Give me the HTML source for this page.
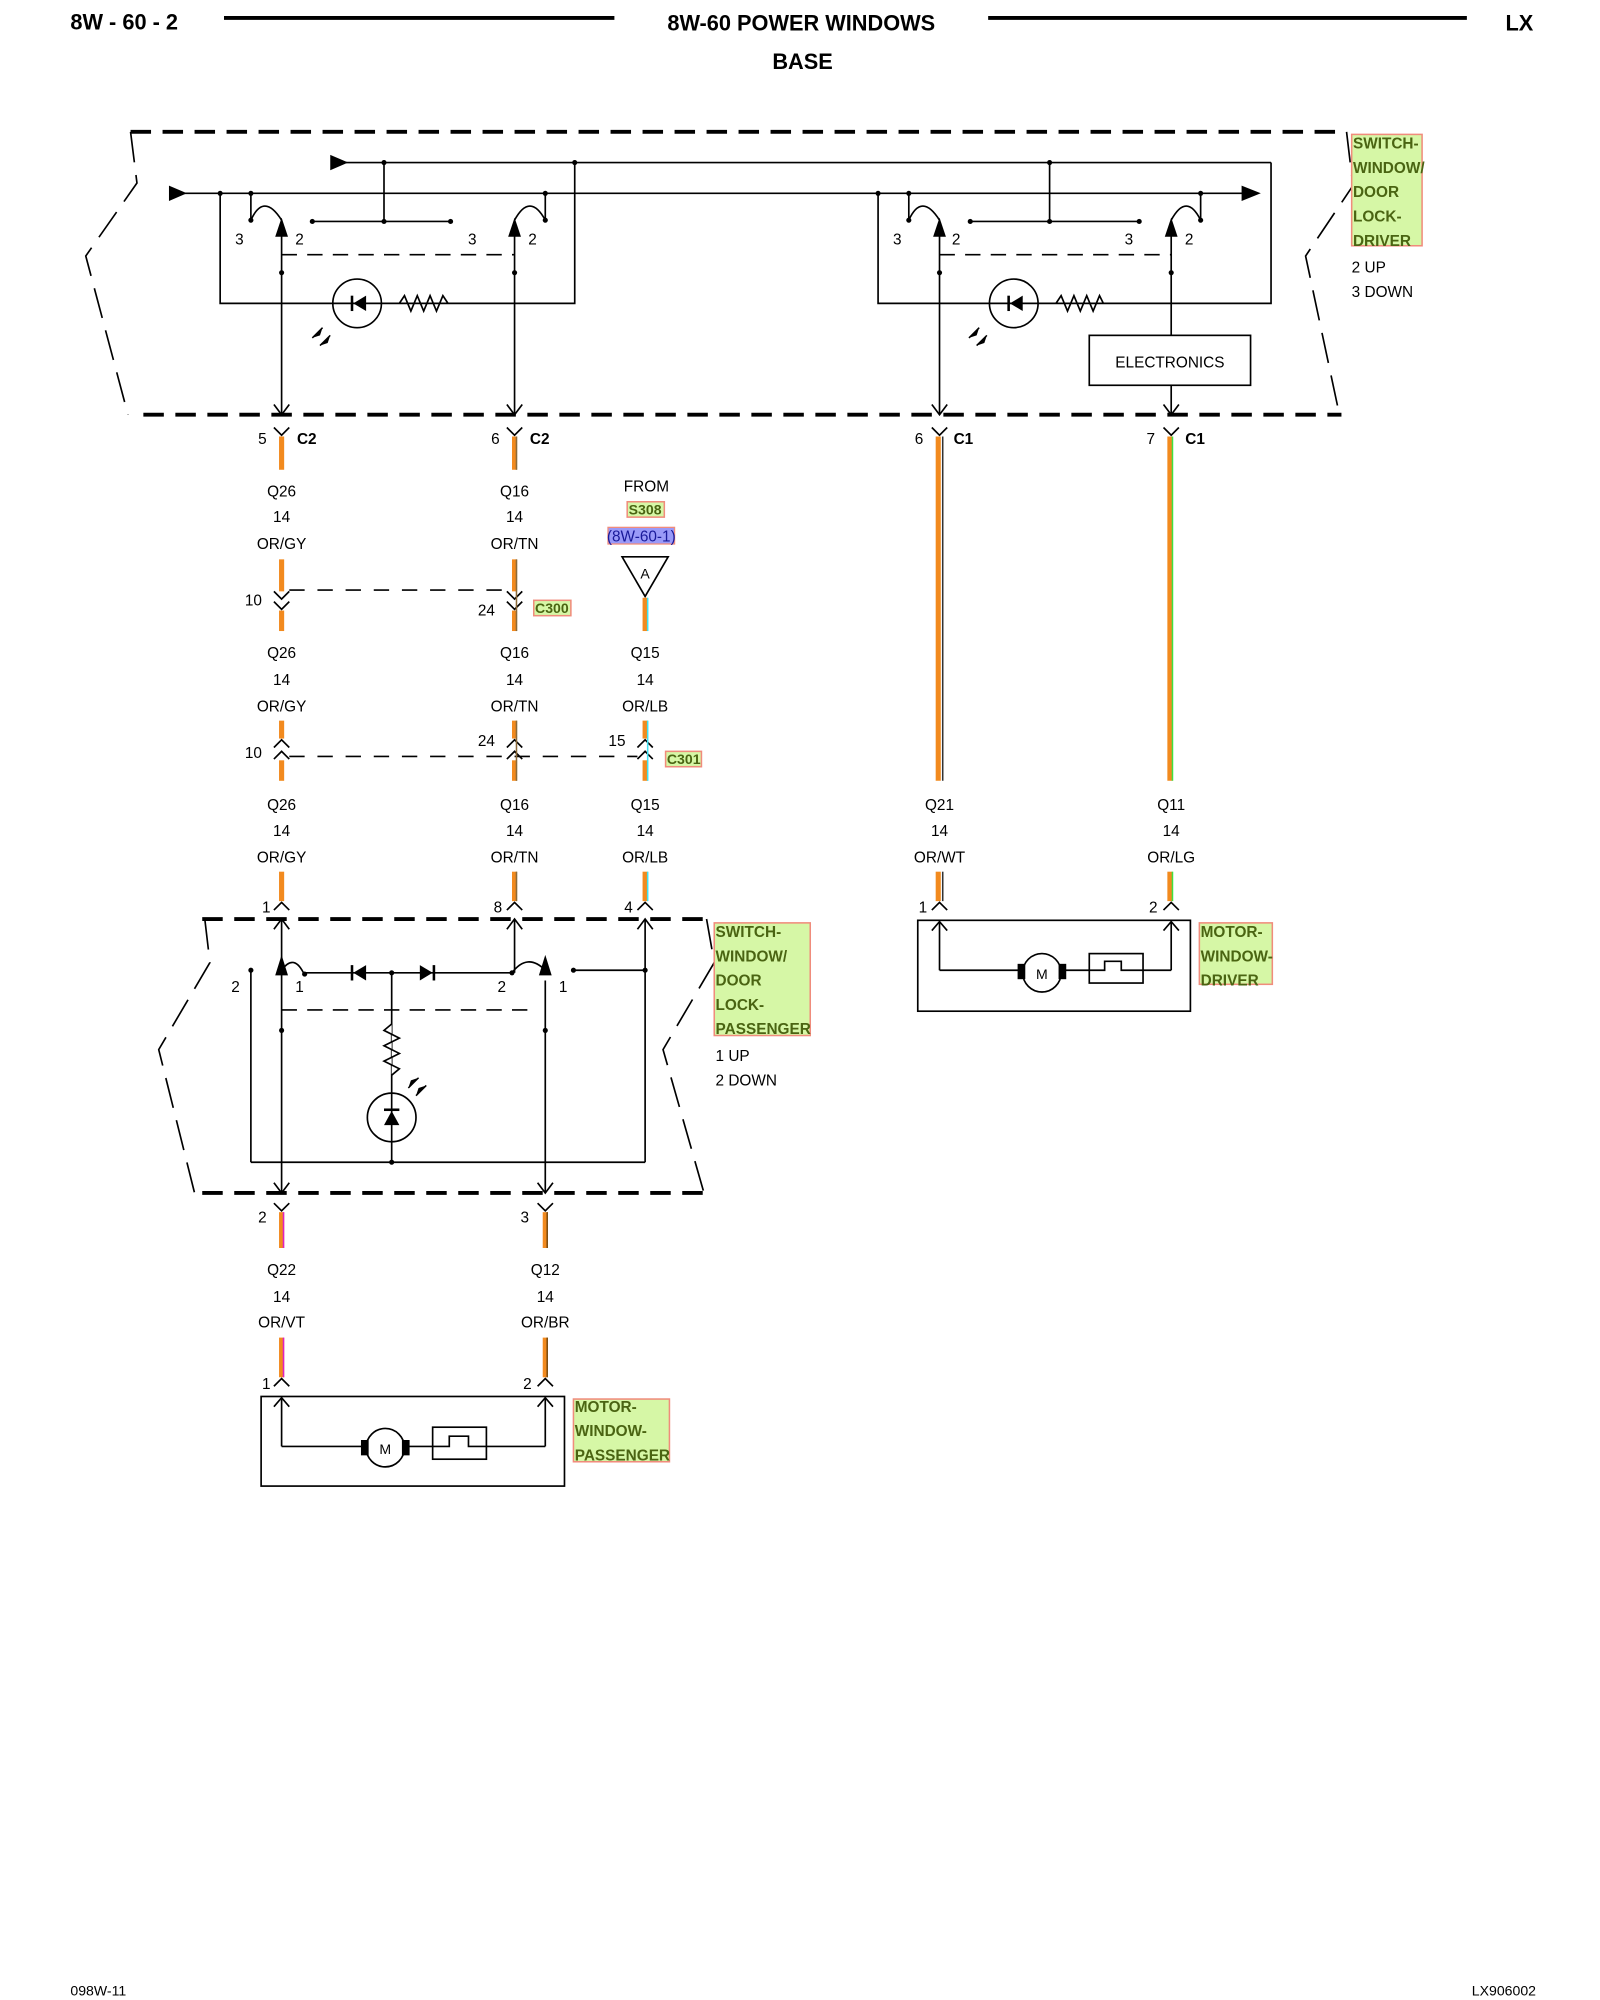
<!DOCTYPE html>
<html><head><meta charset="utf-8"><style>
html,body{margin:0;padding:0;background:#fff}
svg{display:block}
text{font-family:"Liberation Sans",Arial,sans-serif;fill:#000}
.t{font-size:12px;text-anchor:middle}
.l{font-size:12px}
.b{font-weight:bold}
.g{font-size:12px;font-weight:bold;fill:#4a6412}
.lb{fill:#d6f7a6;stroke:#f08c7c;stroke-width:1.2}
</style></head><body>
<svg width="1600" height="2000" viewBox="0 0 1250 1562.5" xmlns="http://www.w3.org/2000/svg">
<g fill="none" stroke="#000" stroke-width="1.3">
<line x1="175" y1="14" x2="480" y2="14" stroke-width="3"/>
<line x1="772" y1="14" x2="1146" y2="14" stroke-width="3"/>

<line x1="102" y1="103" x2="1048" y2="103" stroke-width="3" stroke-dasharray="16,9"/>
<line x1="112" y1="324" x2="1048" y2="324" stroke-width="3" stroke-dasharray="16,9"/>
<polyline points="102,103 107,143 67,200 100,324" stroke-dasharray="24,10"/>
<polyline points="1052,103 1057,145 1020,200 1046,322" stroke-dasharray="24,10"/>

<line x1="270" y1="127" x2="993" y2="127"/>
<polyline points="993,127 993,237 686,237 686,151"/>
<polyline points="449,127 449,237 172,237 172,151"/>
<line x1="140" y1="151" x2="975" y2="151"/>
<line x1="300" y1="127" x2="300" y2="173"/>
<line x1="820" y1="127" x2="820" y2="173"/>
<line x1="244" y1="173" x2="352" y2="173"/>
<line x1="758" y1="173" x2="890" y2="173"/>
<line x1="196" y1="151" x2="196" y2="172"/>
<path d="M196,172 Q206,150 220,172"/>
<line x1="220" y1="180" x2="220" y2="324"/>
<line x1="426" y1="151" x2="426" y2="172"/>
<path d="M402,172 Q414,150 426,172"/>
<line x1="402" y1="180" x2="402" y2="324"/>
<line x1="220" y1="199" x2="402" y2="199" stroke-dasharray="12,8"/>
<line x1="710" y1="151" x2="710" y2="172"/>
<path d="M710,172 Q720,150 734,172"/>
<line x1="734" y1="180" x2="734" y2="324"/>
<line x1="938" y1="151" x2="938" y2="172"/>
<path d="M915,172 Q927,150 938,172"/>
<line x1="915" y1="180" x2="915" y2="262"/>
<line x1="915" y1="301" x2="915" y2="324"/>
<line x1="734" y1="199" x2="915" y2="199" stroke-dasharray="12,8"/>
<rect x="851" y="262" width="126" height="39"/>
<circle cx="279" cy="237" r="19"/>
<polyline points="312,237 316,231 321,243 326,231 331,243 336,231 341,243 346,231 350,237"/>
<circle cx="792" cy="237" r="19"/>
<polyline points="825,237 829,231 834,243 839,231 844,243 849,231 854,243 859,231 862,237"/>
<polyline points="214,316 220,324 226,316"/>
<polyline points="396,316 402,324 408,316"/>
<polyline points="728,316 734,324 740,316"/>
<polyline points="909,316 915,324 921,316"/>

<polyline points="214,334 220,340 226,334"/>
<polyline points="396,334 402,340 408,334"/>
<polyline points="728,334 734,340 740,334"/>
<polyline points="909,334 915,340 921,334"/>

<polyline points="214,462 220,468 226,462"/><polyline points="214,470 220,476 226,470"/>
<polyline points="396,462 402,468 408,462"/><polyline points="396,470 402,476 408,470"/>
<line x1="226" y1="461" x2="396" y2="461" stroke-dasharray="12,10"/>
<polyline points="214,584 220,578 226,584"/><polyline points="214,593 220,587 226,593"/>
<polyline points="396,584 402,578 408,584"/><polyline points="396,593 402,587 408,593"/>
<polyline points="498,584 504,578 510,584"/><polyline points="498,593 504,587 510,593"/>
<line x1="226" y1="591" x2="498" y2="591" stroke-dasharray="12,10"/>
<polygon points="486,435 522,435 504,466"/>

<polyline points="214,711 220,705 226,711"/>
<polyline points="396,711 402,705 408,711"/>
<polyline points="498,711 504,705 510,711"/>
<polyline points="728,711 734,705 740,711"/>
<polyline points="909,711 915,705 921,711"/>

<line x1="158" y1="718" x2="552" y2="718" stroke-width="3" stroke-dasharray="16,9"/>
<line x1="158" y1="932" x2="552" y2="932" stroke-width="3" stroke-dasharray="16,9"/>
<polyline points="160,718 164,752 124,820 152,932" stroke-dasharray="24,10"/>
<polyline points="552,718 558,752 518,820 550,932" stroke-dasharray="24,10"/>
<line x1="220" y1="718" x2="220" y2="932"/>
<polyline points="214,726 220,718 226,726"/>
<polyline points="214,924 220,932 226,924"/>
<path d="M220,758 Q230,744 238,762"/>
<line x1="238" y1="760" x2="400" y2="760"/>
<path d="M400,760 Q412,744 426,758"/>
<line x1="402" y1="718" x2="402" y2="760"/>
<polyline points="396,726 402,718 408,726"/>
<line x1="426" y1="766" x2="426" y2="932"/>
<polyline points="420,924 426,932 432,924"/>
<line x1="196" y1="758" x2="196" y2="908"/>
<line x1="448" y1="758" x2="504" y2="758"/>
<line x1="504" y1="718" x2="504" y2="908"/>
<polyline points="498,726 504,718 510,726"/>
<line x1="196" y1="908" x2="504" y2="908"/>
<line x1="220" y1="789" x2="418" y2="789" stroke-dasharray="12,8"/>
<line x1="306" y1="760" x2="306" y2="908"/>
<polyline points="306,800 300,805 312,811 300,817 312,823 300,829 312,835 306,840" fill="#fff"/>
<circle cx="306" cy="873" r="19" fill="#fff"/>
<line x1="306" y1="854" x2="306" y2="892"/>

<polyline points="214,940 220,946 226,940"/>
<polyline points="420,940 426,946 432,940"/>
<polyline points="214,1083 220,1077 226,1083"/>
<polyline points="420,1083 426,1077 432,1083"/>
<rect x="204" y="1091" width="237" height="70"/>
<polyline points="220,1130 220,1092"/><polyline points="214,1099 220,1092 226,1099"/>
<line x1="220" y1="1130" x2="286" y2="1130"/>
<circle cx="301" cy="1131" r="15"/>
<line x1="316" y1="1130" x2="338" y2="1130"/>
<rect x="338" y="1115" width="42" height="25"/>
<polyline points="338,1130 351,1130 351,1122 366,1122 366,1130 380,1130"/>
<line x1="380" y1="1130" x2="426" y2="1130"/>
<line x1="426" y1="1130" x2="426" y2="1092"/><polyline points="420,1099 426,1092 432,1099"/>
<rect x="717" y="719" width="213" height="71"/>
<line x1="734" y1="758" x2="734" y2="720"/><polyline points="728,727 734,720 740,727"/>
<line x1="734" y1="758" x2="799" y2="758"/>
<circle cx="814" cy="760" r="15"/>
<line x1="829" y1="758" x2="851" y2="758"/>
<rect x="851" y="745" width="42" height="23"/>
<polyline points="851,758 863,758 863,751 876,751 876,758 893,758"/>
<line x1="893" y1="758" x2="915" y2="758"/>
<line x1="915" y1="758" x2="915" y2="720"/><polyline points="909,727 915,720 921,727"/>
</g>

<g fill="#000" stroke="none">
<polygon points="258,121 258,133 272,127"/>
<polygon points="132,145 132,157 146,151"/>
<polygon points="985,151 970,145 970,157"/>
<polygon points="220,170 215,185 225,185"/><polygon points="402,170 397,185 407,185"/>
<polygon points="734,170 729,185 739,185"/><polygon points="915,170 910,185 920,185"/>
<polygon points="220,746 215,762 225,762"/><polygon points="426,746 421,762 431,762"/>
<polygon points="276,237 286,231 286,243"/><rect x="274" y="231" width="2" height="12"/>
<polygon points="789,237 799,231 799,243"/><rect x="787" y="231" width="2" height="12"/>
<polygon points="276,760 286,754 286,766"/><rect x="274" y="754" width="2" height="12"/>
<polygon points="338,760 328,754 328,766"/><rect x="338" y="754" width="2" height="12"/>
<polygon points="306,868 300,879 312,879"/><rect x="300" y="866" width="12" height="2"/>
<circle cx="172" cy="151" r="2"/><circle cx="196" cy="151" r="2"/><circle cx="300" cy="127" r="2"/>
<circle cx="449" cy="127" r="2"/><circle cx="426" cy="151" r="2"/><circle cx="686" cy="151" r="2"/>
<circle cx="710" cy="151" r="2"/><circle cx="820" cy="127" r="2"/><circle cx="938" cy="151" r="2"/>
<circle cx="300" cy="173" r="2"/><circle cx="820" cy="173" r="2"/>
<circle cx="244" cy="173" r="2"/><circle cx="352" cy="173" r="2"/><circle cx="758" cy="173" r="2"/><circle cx="890" cy="173" r="2"/>
<circle cx="196" cy="172" r="2"/><circle cx="426" cy="172" r="2"/><circle cx="710" cy="172" r="2"/><circle cx="938" cy="172" r="2"/>
<circle cx="220" cy="213" r="2"/><circle cx="402" cy="213" r="2"/><circle cx="734" cy="213" r="2"/><circle cx="915" cy="213" r="2"/>
<circle cx="196" cy="758" r="2"/><circle cx="306" cy="760" r="2"/><circle cx="448" cy="758" r="2"/><circle cx="504" cy="758" r="2"/>
<circle cx="238" cy="761" r="2"/><circle cx="400" cy="760" r="2"/>
<circle cx="220" cy="805" r="2"/><circle cx="426" cy="805" r="2"/><circle cx="306" cy="908" r="2"/>
<polygon points="244,264 252,256 250,262"/><polygon points="250,270 258,262 256,268"/>
<polygon points="757,264 765,256 763,262"/><polygon points="763,270 771,262 769,268"/>
<polygon points="327,842 319,850 321,844"/><polygon points="333,848 325,856 327,850"/>
<rect x="282" y="1125" width="6" height="12"/><rect x="314" y="1125" width="6" height="12"/>
<rect x="795" y="753" width="6" height="12"/><rect x="827" y="753" width="6" height="12"/>
</g>
<g stroke="#000" stroke-width="1.2">
<line x1="252" y1="256" x2="244" y2="264"/><line x1="258" y1="262" x2="250" y2="270"/>
<line x1="765" y1="256" x2="757" y2="264"/><line x1="771" y1="262" x2="763" y2="270"/>
<line x1="319" y1="850" x2="327" y2="842"/><line x1="325" y1="856" x2="333" y2="848"/>
</g>

<g stroke-width="4" fill="none">
<line x1="220" y1="341" x2="220" y2="367" stroke="#f28a1e"/>
<line x1="402" y1="341" x2="402" y2="367" stroke="#f28a1e"/>
<line x1="220" y1="437" x2="220" y2="462" stroke="#f28a1e"/>
<line x1="402" y1="437" x2="402" y2="462" stroke="#f28a1e"/>
<line x1="220" y1="477" x2="220" y2="493" stroke="#f28a1e"/>
<line x1="402" y1="477" x2="402" y2="493" stroke="#f28a1e"/>
<line x1="504" y1="467" x2="504" y2="493" stroke="#f28a1e"/>
<line x1="220" y1="563" x2="220" y2="577" stroke="#f28a1e"/><line x1="220" y1="594" x2="220" y2="610" stroke="#f28a1e"/>
<line x1="402" y1="563" x2="402" y2="577" stroke="#f28a1e"/><line x1="402" y1="594" x2="402" y2="610" stroke="#f28a1e"/>
<line x1="504" y1="563" x2="504" y2="577" stroke="#f28a1e"/><line x1="504" y1="594" x2="504" y2="610" stroke="#f28a1e"/>
<line x1="220" y1="681" x2="220" y2="704" stroke="#f28a1e"/>
<line x1="402" y1="681" x2="402" y2="704" stroke="#f28a1e"/>
<line x1="504" y1="681" x2="504" y2="704" stroke="#f28a1e"/>
<line x1="733" y1="341" x2="733" y2="610" stroke="#f28a1e"/>
<line x1="733" y1="681" x2="733" y2="704" stroke="#f28a1e"/>
<line x1="914" y1="341" x2="914" y2="610" stroke="#f28a1e"/>
<line x1="914" y1="681" x2="914" y2="704" stroke="#f28a1e"/>
<line x1="220" y1="947" x2="220" y2="975" stroke="#f28a1e"/>
<line x1="426" y1="947" x2="426" y2="975" stroke="#f28a1e"/>
<line x1="220" y1="1045" x2="220" y2="1076" stroke="#f28a1e"/>
<line x1="426" y1="1045" x2="426" y2="1076" stroke="#f28a1e"/>
</g>
<g stroke-width="1.2">
<line x1="403.5" y1="341" x2="403.5" y2="367" stroke="#8a6a3a"/>
<line x1="403.5" y1="437" x2="403.5" y2="493" stroke="#8a6a3a"/>
<line x1="403.5" y1="563" x2="403.5" y2="610" stroke="#8a6a3a"/>
<line x1="403.5" y1="681" x2="403.5" y2="704" stroke="#8a6a3a"/>
<line x1="506" y1="467" x2="506" y2="493" stroke="#40e0f0"/>
<line x1="506" y1="563" x2="506" y2="610" stroke="#40e0f0"/>
<line x1="506" y1="681" x2="506" y2="704" stroke="#40e0f0"/>
<line x1="736.5" y1="341" x2="736.5" y2="610" stroke="#333"/>
<line x1="736.5" y1="681" x2="736.5" y2="704" stroke="#333"/>
<line x1="916" y1="341" x2="916" y2="610" stroke="#40e040"/>
<line x1="916" y1="681" x2="916" y2="704" stroke="#40e040"/>
<line x1="221.5" y1="947" x2="221.5" y2="975" stroke="#e020c0"/>
<line x1="221.5" y1="1045" x2="221.5" y2="1076" stroke="#e020c0"/>
<line x1="427.5" y1="947" x2="427.5" y2="975" stroke="#7a4a10"/>
<line x1="427.5" y1="1045" x2="427.5" y2="1076" stroke="#7a4a10"/>
</g>

<rect class="lb" x="1056" y="105" width="55" height="87"/>
<rect class="lb" x="558" y="721" width="75" height="88"/>
<rect class="lb" x="937" y="721" width="57" height="48"/>
<rect class="lb" x="448" y="1093" width="75" height="49"/>
<rect class="lb" x="490" y="392" width="29" height="12"/>
<rect x="475" y="412" width="52" height="13" fill="#9a9af8" stroke="#f08c7c" stroke-width="1"/>
<rect class="lb" x="417" y="469" width="29" height="12"/>
<rect class="lb" x="520" y="587" width="28" height="12"/>

<text x="55" y="23" style="font-size:17px;font-weight:bold">8W - 60 - 2</text>
<text x="626" y="24" style="font-size:17px;font-weight:bold;text-anchor:middle">8W-60 POWER WINDOWS</text>
<text x="1187" y="24" style="font-size:17px;font-weight:bold;text-anchor:middle">LX</text>
<text x="627" y="54" style="font-size:17px;font-weight:bold;text-anchor:middle">BASE</text>

<text class="t" x="187" y="191">3</text><text class="t" x="234" y="191">2</text>
<text class="t" x="369" y="191">3</text><text class="t" x="416" y="191">2</text>
<text class="t" x="701" y="191">3</text><text class="t" x="747" y="191">2</text>
<text class="t" x="882" y="191">3</text><text class="t" x="929" y="191">2</text>
<text class="t" x="914" y="287">ELECTRONICS</text>

<text class="g" x="1057" y="116">SWITCH-</text><text class="g" x="1057" y="135">WINDOW/</text>
<text class="g" x="1057" y="154">DOOR</text><text class="g" x="1057" y="173">LOCK-</text><text class="g" x="1057" y="192">DRIVER</text>
<text class="l" x="1056" y="213">2 UP</text><text class="l" x="1056" y="232">3 DOWN</text>

<text class="t" x="205" y="347">5</text><text class="l b" x="232" y="347">C2</text>
<text class="t" x="387" y="347">6</text><text class="l b" x="414" y="347">C2</text>
<text class="t" x="718" y="347">6</text><text class="l b" x="745" y="347">C1</text>
<text class="t" x="899" y="347">7</text><text class="l b" x="926" y="347">C1</text>

<text class="t" x="220" y="388">Q26</text><text class="t" x="220" y="408">14</text><text class="t" x="220" y="429">OR/GY</text>
<text class="t" x="402" y="388">Q16</text><text class="t" x="402" y="408">14</text><text class="t" x="402" y="429">OR/TN</text>
<text class="t" x="505" y="384">FROM</text>
<text class="t g" x="504" y="402" style="font-size:11px">S308</text>
<text class="t" x="501" y="423" style="fill:#1a1a9a">(8W-60-1)</text>
<text class="t" x="504" y="452" style="font-size:11px">A</text>
<text class="t" x="198" y="473">10</text><text class="t" x="380" y="481">24</text>
<text class="g" x="418" y="479" style="font-size:11px">C300</text>

<text class="t" x="220" y="514">Q26</text><text class="t" x="220" y="535">14</text><text class="t" x="220" y="556">OR/GY</text>
<text class="t" x="402" y="514">Q16</text><text class="t" x="402" y="535">14</text><text class="t" x="402" y="556">OR/TN</text>
<text class="t" x="504" y="514">Q15</text><text class="t" x="504" y="535">14</text><text class="t" x="504" y="556">OR/LB</text>
<text class="t" x="198" y="592">10</text><text class="t" x="380" y="583">24</text><text class="t" x="482" y="583">15</text>
<text class="g" x="521" y="597" style="font-size:11px">C301</text>

<text class="t" x="220" y="633">Q26</text><text class="t" x="220" y="653">14</text><text class="t" x="220" y="674">OR/GY</text>
<text class="t" x="402" y="633">Q16</text><text class="t" x="402" y="653">14</text><text class="t" x="402" y="674">OR/TN</text>
<text class="t" x="504" y="633">Q15</text><text class="t" x="504" y="653">14</text><text class="t" x="504" y="674">OR/LB</text>
<text class="t" x="734" y="633">Q21</text><text class="t" x="734" y="653">14</text><text class="t" x="734" y="674">OR/WT</text>
<text class="t" x="915" y="633">Q11</text><text class="t" x="915" y="653">14</text><text class="t" x="915" y="674">OR/LG</text>
<text class="t" x="208" y="713">1</text><text class="t" x="389" y="713">8</text><text class="t" x="491" y="713">4</text>
<text class="t" x="721" y="713">1</text><text class="t" x="901" y="713">2</text>

<text class="t" x="184" y="775">2</text><text class="t" x="234" y="775">1</text>
<text class="t" x="392" y="775">2</text><text class="t" x="440" y="775">1</text>
<text class="g" x="559" y="732">SWITCH-</text><text class="g" x="559" y="751">WINDOW/</text>
<text class="g" x="559" y="770">DOOR</text><text class="g" x="559" y="789">LOCK-</text><text class="g" x="559" y="808">PASSENGER</text>
<text class="l" x="559" y="829">1 UP</text><text class="l" x="559" y="848">2 DOWN</text>
<text class="g" x="938" y="732">MOTOR-</text><text class="g" x="938" y="751">WINDOW-</text><text class="g" x="938" y="770">DRIVER</text>
<text class="t" x="814" y="765" style="font-size:11px">M</text>

<text class="t" x="205" y="955">2</text><text class="t" x="410" y="955">3</text>
<text class="t" x="220" y="996">Q22</text><text class="t" x="220" y="1017">14</text><text class="t" x="220" y="1037">OR/VT</text>
<text class="t" x="426" y="996">Q12</text><text class="t" x="426" y="1017">14</text><text class="t" x="426" y="1037">OR/BR</text>
<text class="t" x="208" y="1085">1</text><text class="t" x="412" y="1085">2</text>
<text class="t" x="301" y="1136" style="font-size:11px">M</text>
<text class="g" x="449" y="1103">MOTOR-</text><text class="g" x="449" y="1122">WINDOW-</text><text class="g" x="449" y="1141">PASSENGER</text>

<text x="55" y="1559" style="font-size:11px">098W-11</text>
<text x="1200" y="1559" style="font-size:11px;text-anchor:end">LX906002</text>
</svg>
</body></html>
